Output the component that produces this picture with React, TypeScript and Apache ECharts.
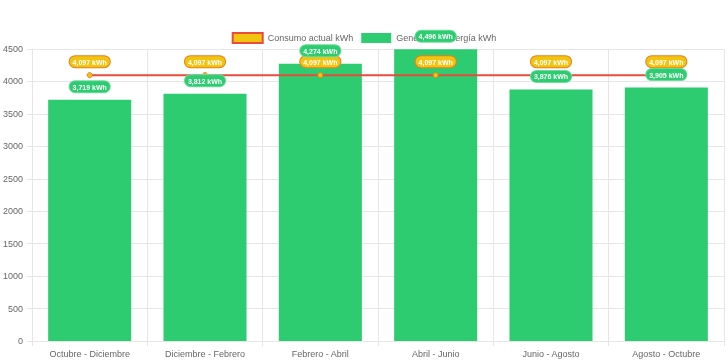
import React, { useEffect, useRef } from "react";
import * as echarts from "echarts";

const categories = [
  "Octubre - Diciembre",
  "Diciembre - Febrero",
  "Febrero - Abril",
  "Abril - Junio",
  "Junio - Agosto",
  "Agosto - Octubre",
];
const generacion = [3719, 3812, 4274, 4496, 3876, 3905];
const consumo = [4097, 4097, 4097, 4097, 4097, 4097];

const FONT = "'Liberation Sans', Arial, sans-serif";
const GREEN = "#2ecc71";
const YELLOW = "#f1c40f";
const ORANGE = "#e67e22";
const RED = "#e74c3c";
const GRID = "#e6e6e6";

const fmt = (v: number) => v.toLocaleString("en-US") + " kWh";

export default function App() {
  const ref = useRef<HTMLDivElement>(null);
  useEffect(() => {
    if (!ref.current) return;
    const chart = echarts.init(ref.current, undefined, { renderer: "svg" });
    const labelBase = {
      show: true,
      position: "top" as const,
      color: "#fff",
      fontWeight: "bold" as const,
      fontFamily: FONT,
      fontSize: 7,
      lineHeight: 8,
      padding: [2, 3, 1, 3],
      borderRadius: 6,
      borderWidth: 1,
    };
    chart.setOption({
      animation: false,
      textStyle: { fontFamily: FONT },
      legend: {
        top: 27,
        left: "center",
        itemWidth: 30,
        itemHeight: 10,
        itemGap: 8,
        textStyle: { color: "#666", fontSize: 9, fontFamily: FONT },
        data: [
          {
            name: "Consumo actual kWh",
            icon: "rect",
            itemStyle: { color: YELLOW, borderColor: RED, borderWidth: 2 },
          },
          { name: "Generación energía kWh", icon: "rect", itemStyle: { color: GREEN } },
        ],
      },
      grid: { left: 30, right: 4, top: 49, bottom: 22, containLabel: false },
      xAxis: {
        type: "category",
        data: categories,
        boundaryGap: true,
        axisLine: { show: true, lineStyle: { color: GRID } },
        axisTick: { show: true, length: 5, lineStyle: { color: GRID } },
        splitLine: { show: true, lineStyle: { color: GRID } },
        axisLabel: { color: "#666", fontSize: 9, fontFamily: FONT, margin: 8, interval: 0 },
      },
      yAxis: {
        type: "value",
        min: 0,
        max: 4500,
        interval: 500,
        axisLine: { show: true, lineStyle: { color: GRID } },
        axisTick: { show: true, length: 5, lineStyle: { color: GRID } },
        splitLine: { show: true, lineStyle: { color: GRID } },
        axisLabel: {
          color: "#666",
          fontSize: 9,
          fontFamily: FONT,
          margin: 9,
          formatter: (v: number) => String(v),
        },
      },
      series: [
        {
          name: "Generación energía kWh",
          type: "bar",
          data: generacion,
          barWidth: "72%",
          itemStyle: { color: GREEN },
          z: 2,
        },
        {
          name: "Consumo actual kWh",
          type: "line",
          data: consumo,
          z: 3,
          symbol: "circle",
          symbolSize: 5,
          lineStyle: { color: RED, width: 2 },
          itemStyle: { color: YELLOW, borderColor: ORANGE, borderWidth: 1 },
          label: {
            ...labelBase,
            distance: 5,
            backgroundColor: YELLOW,
            borderColor: ORANGE,
            formatter: (p: any) => fmt(p.value),
          },
        },
        {
          name: "gen-labels",
          type: "line",
          data: generacion,
          z: 10,
          symbol: "circle",
          symbolSize: 1,
          lineStyle: { opacity: 0, width: 0 },
          itemStyle: { color: "rgba(0,0,0,0)" },
          label: {
            ...labelBase,
            distance: 7,
            backgroundColor: GREEN,
            borderColor: "#6fdc9c",
            formatter: (p: any) => fmt(p.value),
          },
          silent: true,
        },
      ],
    });
    return () => chart.dispose();
  }, []);
  return (
    <div
      ref={ref}
      style={{ position: "fixed", left: 0, top: 0, width: 728, height: 363 }}
    />
  );
}
